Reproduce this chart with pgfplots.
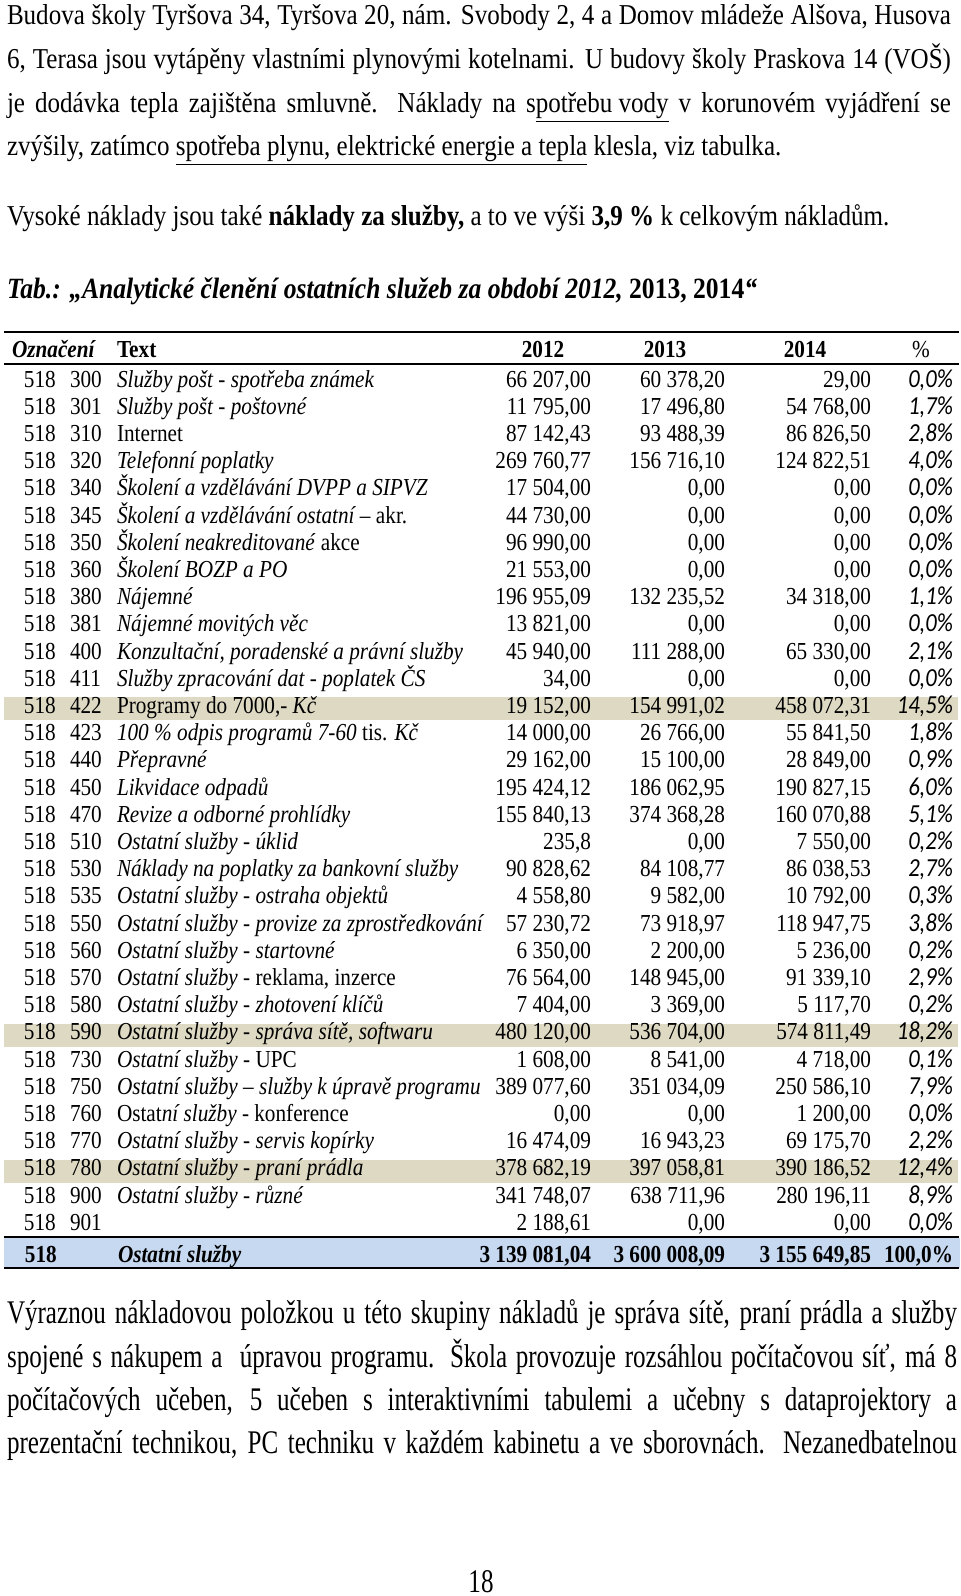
\documentclass[border=0pt]{standalone}
\usepackage{pgfplots}
\pgfplotsset{compat=1.18}
\usepackage{fontspec}
\setmainfont{Liberation Serif}[FakeStretch=0.87]
\newfontfamily\condensed{Liberation Serif}[FakeStretch=0.76]
\newfontfamily\calib{Carlito}[FakeStretch=0.87]
\definecolor{beige}{HTML}{DDD9C3}
\definecolor{totblue}{HTML}{C6D9F1}
\newlength\px \setlength\px{0.5pt}
\newcommand\bodyfont{\fontsize{14.4}{18}\selectfont}
\newcommand\lowfont{\condensed\fontsize{16.5}{20}\selectfont}
\newcommand\tabfont{\fontsize{12.2}{15}\selectfont}
\newcommand\Y[1]{387+27.2*#1}
\newcommand\R[7]{%
 \node[anchor=base west,font=\tabfont] at (axis cs:24,{\Y{#1}}) {518};
 \node[anchor=base west,font=\tabfont] at (axis cs:70,{\Y{#1}}) {#2};
 \node[anchor=base west,font=\tabfont] at (axis cs:117,{\Y{#1}}) {#3};
 \node[anchor=base east,font=\tabfont] at (axis cs:591,{\Y{#1}}) {#4};
 \node[anchor=base east,font=\tabfont] at (axis cs:725,{\Y{#1}}) {#5};
 \node[anchor=base east,font=\tabfont] at (axis cs:871,{\Y{#1}}) {#6};
 \node[anchor=base east,font=\fontsize{13}{15}\selectfont] at (axis cs:953,{\Y{#1}}) {\calib\itshape #7\%};
}
\newcommand\HL[1]{\fill[beige] (axis cs:4,{\Y{#1}-16}) rectangle (axis cs:958,{\Y{#1}+7});}
\newcommand\JL[2]{\node[anchor=base west,font=\bodyfont] at (axis cs:7,#1) {\makebox[944\px][s]{#2}};}
\newcommand\JLb[2]{\node[anchor=base west,font=\lowfont] at (axis cs:7,#1) {\makebox[950\px][s]{#2}};}
\newcommand\NL[2]{\node[anchor=base west,font=\bodyfont] at (axis cs:7,#1) {#2};}
\begin{document}
\begin{tikzpicture}[every node/.append style={inner sep=0pt,outer sep=0pt}]
\begin{axis}[width=480pt,height=798pt,scale only axis,xmin=0,xmax=960,ymin=0,ymax=1596,
  y dir=reverse,hide axis,clip=false]
% text above
\JL{24}{Budova školy Tyršova 34, Tyršova 20, nám. Svobody 2, 4 a Domov mládeže Alšova, Husova}
\JL{68}{6, Terasa jsou vytápěny vlastními plynovými kotelnami. U budovy školy Praskova 14 (VOŠ)}
\JL{112}{je dodávka tepla zajištěna smluvně. Náklady na s\underline{potřebu vody} v korunovém vyjádření se}
\NL{155}{zvýšily, zatímco \underline{spotřeba plynu, elektrické energie a tepla} klesla, viz tabulka.}
\NL{225}{Vysoké náklady jsou také \textbf{náklady za služby,} a to ve výši \textbf{3,9 \%} k celkovým nákladům.}
\node[anchor=base west,font=\fontsize{14.7}{18}\selectfont\bfseries\itshape] at (axis cs:7,298) {Tab.: „Analytické členění ostatních služeb za období 2012, \textup{2013, 2014}“};
% highlight bands
\HL{12}\HL{24}\HL{29}
\fill[totblue] (axis cs:4,1238) rectangle (axis cs:960,1268);
% rules
\draw[line width=1pt] (axis cs:4,332) -- (axis cs:959,332);
\draw[line width=1pt] (axis cs:4,364) -- (axis cs:959,364);
\draw[line width=1pt] (axis cs:4,1237) -- (axis cs:959,1237);
\draw[line width=1pt] (axis cs:4,1268) -- (axis cs:959,1268);
% header
\node[anchor=base west,font=\tabfont\bfseries\itshape] at (axis cs:12,357) {Označení};
\node[anchor=base west,font=\tabfont\bfseries] at (axis cs:117,357) {Text};
\node[anchor=base,font=\tabfont\bfseries] at (axis cs:543,357) {2012};
\node[anchor=base,font=\tabfont\bfseries] at (axis cs:665,357) {2013};
\node[anchor=base,font=\tabfont\bfseries] at (axis cs:805,357) {2014};
\node[anchor=base,font=\tabfont] at (axis cs:921,357) {\%};
% rows
\R{0}{300}{\textit{Služby pošt - spotřeba známek}}{66 207,00}{60 378,20}{29,00}{0,0}
\R{1}{301}{\textit{Služby pošt - poštovné}}{11 795,00}{17 496,80}{54 768,00}{1,7}
\R{2}{310}{Internet}{87 142,43}{93 488,39}{86 826,50}{2,8}
\R{3}{320}{\textit{Telefonní poplatky}}{269 760,77}{156 716,10}{124 822,51}{4,0}
\R{4}{340}{\textit{Školení a vzdělávání DVPP a SIPVZ}}{17 504,00}{0,00}{0,00}{0,0}
\R{5}{345}{\textit{Školení a vzdělávání ostatní –} akr.}{44 730,00}{0,00}{0,00}{0,0}
\R{6}{350}{\textit{Školení neakreditované} akce}{96 990,00}{0,00}{0,00}{0,0}
\R{7}{360}{\textit{Školení BOZP a PO}}{21 553,00}{0,00}{0,00}{0,0}
\R{8}{380}{\textit{Nájemné}}{196 955,09}{132 235,52}{34 318,00}{1,1}
\R{9}{381}{\textit{Nájemné movitých věc}}{13 821,00}{0,00}{0,00}{0,0}
\R{10}{400}{\textit{Konzultační, poradenské a právní služby}}{45 940,00}{111 288,00}{65 330,00}{2,1}
\R{11}{411}{\textit{Služby zpracování dat - poplatek ČS}}{34,00}{0,00}{0,00}{0,0}
\R{12}{422}{Programy do 7000,- \textit{Kč}}{19 152,00}{154 991,02}{458 072,31}{14,5}
\R{13}{423}{\textit{100 \% odpis programů 7-60} tis. \textit{Kč}}{14 000,00}{26 766,00}{55 841,50}{1,8}
\R{14}{440}{\textit{Přepravné}}{29 162,00}{15 100,00}{28 849,00}{0,9}
\R{15}{450}{\textit{Likvidace odpadů}}{195 424,12}{186 062,95}{190 827,15}{6,0}
\R{16}{470}{\textit{Revize a odborné prohlídky}}{155 840,13}{374 368,28}{160 070,88}{5,1}
\R{17}{510}{\textit{Ostatní služby - úklid}}{235,8}{0,00}{7 550,00}{0,2}
\R{18}{530}{\textit{Náklady na poplatky za bankovní služby}}{90 828,62}{84 108,77}{86 038,53}{2,7}
\R{19}{535}{\textit{Ostatní služby - ostraha objektů}}{4 558,80}{9 582,00}{10 792,00}{0,3}
\R{20}{550}{\textit{Ostatní služby - provize za zprostředkování}}{57 230,72}{73 918,97}{118 947,75}{3,8}
\R{21}{560}{\textit{Ostatní služby - startovné}}{6 350,00}{2 200,00}{5 236,00}{0,2}
\R{22}{570}{\textit{Ostatní služby} - reklama, inzerce}{76 564,00}{148 945,00}{91 339,10}{2,9}
\R{23}{580}{\textit{Ostatní služby - zhotovení klíčů}}{7 404,00}{3 369,00}{5 117,70}{0,2}
\R{24}{590}{\textit{Ostatní služby - správa sítě, softwaru}}{480 120,00}{536 704,00}{574 811,49}{18,2}
\R{25}{730}{\textit{Ostatní služby} - UPC}{1 608,00}{8 541,00}{4 718,00}{0,1}
\R{26}{750}{\textit{Ostatní služby – služby k úpravě programu}}{389 077,60}{351 034,09}{250 586,10}{7,9}
\R{27}{760}{Ostat\textit{ní služby} - konference}{0,00}{0,00}{1 200,00}{0,0}
\R{28}{770}{\textit{Ostatní služby - servis kopírky}}{16 474,09}{16 943,23}{69 175,70}{2,2}
\R{29}{780}{\textit{Ostatní služby - praní prádla}}{378 682,19}{397 058,81}{390 186,52}{12,4}
\R{30}{900}{\textit{Ostatní služby - různé}}{341 748,07}{638 711,96}{280 196,11}{8,9}
\R{31}{901}{}{2 188,61}{0,00}{0,00}{0,0}
% total
\node[anchor=base west,font=\tabfont\bfseries] at (axis cs:25,1262) {518};
\node[anchor=base west,font=\tabfont\bfseries\itshape] at (axis cs:118,1262) {Ostatní služby};
\node[anchor=base east,font=\tabfont\bfseries] at (axis cs:591,1262) {3 139 081,04};
\node[anchor=base east,font=\tabfont\bfseries] at (axis cs:725,1262) {3 600 008,09};
\node[anchor=base east,font=\tabfont\bfseries] at (axis cs:871,1262) {3 155 649,85};
\node[anchor=base east,font=\tabfont\bfseries] at (axis cs:953,1262) {100,0\%};
% text below
\JLb{1323}{Výraznou nákladovou položkou u této skupiny nákladů je správa sítě, praní prádla a služby}
\JLb{1367}{spojené s nákupem a\ \ úpravou programu. Škola provozuje rozsáhlou počítačovou síť, má 8}
\JLb{1410}{počítačových učeben, 5 učeben s interaktivními tabulemi a učebny s dataprojektory a}
\JLb{1453}{prezentační technikou, PC techniku v každém kabinetu a ve sborovnách. Nezanedbatelnou}
\node[anchor=base,font=\lowfont] at (axis cs:481,1592) {18};
\end{axis}
\pgfresetboundingbox
\path[use as bounding box] (current axis.south west) rectangle (current axis.north east);
\end{tikzpicture}
\end{document}
